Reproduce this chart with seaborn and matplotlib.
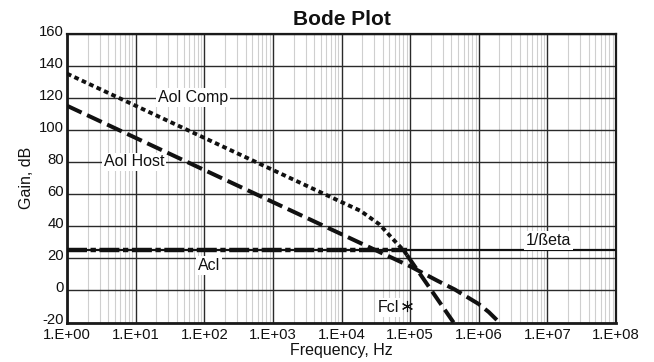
import matplotlib
matplotlib.use("Agg")
import matplotlib.pyplot as plt
import matplotlib.transforms as mtransforms
from matplotlib.ticker import FixedLocator, LogLocator, NullFormatter
import pandas as pd
import seaborn as sns

# Open-loop gain of the host amplifier (Hz, dB)
freq_host = [1, 1e5, 2.5e5, 4.5e5, 7e5, 1e6, 1.4e6, 2e6]
gain_host = [115, 15, 6, 0.5, -4.5, -8.5, -13.5, -20]

# Open-loop gain of the composite amplifier, up to Fcl and beyond
freq_comp = [1, 1e4, 1.9e4, 3.6e4, 5.6e4, 8e4, 9e4]
gain_comp = [135, 55, 49.5, 41, 32, 25, 22]
freq_comp_tail = [9e4, 4.3e5]
gain_comp_tail = [22, -20]

# Noise gain (1/Beta) and closed-loop gain
freq_beta = [1, 1e8]
gain_beta = [25, 25]
freq_acl = [1, 9e4]
gain_acl = [25, 25]

# Closed-loop bandwidth marker
fcl_freq = [9e4]
fcl_gain = [-10]

x_ticks = [1e0, 1e1, 1e2, 1e3, 1e4, 1e5, 1e6, 1e7, 1e8]
x_tick_labels = ["1.E+00", "1.E+01", "1.E+02", "1.E+03", "1.E+04",
                 "1.E+05", "1.E+06", "1.E+07", "1.E+08"]
y_ticks = [-20, 0, 20, 40, 60, 80, 100, 120, 140, 160]

sns.set_theme(style="white")
plt.rcParams["font.family"] = ["Liberation Sans", "DejaVu Sans"]

fig = plt.figure(figsize=(6.54, 3.62), dpi=100)
ax = fig.add_axes([67 / 654, 39.5 / 362, 549 / 654, 289 / 362])
ax.set_xscale("log")
ax.set_xlim(1, 1e8)
ax.set_ylim(-20, 160)

# Grid: dark decades / 20 dB lines, light minor decade lines
ax.xaxis.set_major_locator(FixedLocator(x_ticks))
ax.xaxis.set_minor_locator(LogLocator(base=10, subs=range(2, 10), numticks=100))
ax.xaxis.set_minor_formatter(NullFormatter())
ax.set_xticks(x_ticks)
ax.set_xticklabels(x_tick_labels)
ax.set_yticks(y_ticks)
ax.set_yticklabels([str(v) for v in y_ticks])
ax.grid(which="major", axis="both", color="#2a2a2a", linewidth=1.0, zorder=1)
ax.grid(which="minor", axis="x", color="#cfcfcf", linewidth=0.8, zorder=0)
ax.set_axisbelow(True)
ax.tick_params(which="both", length=0, labelsize=10.7, colors="#111111")
ax.tick_params(axis="x", pad=4)
ax.tick_params(axis="y", pad=2)

# Lift the gain labels slightly so the lowest one clears the frequency labels
lift = mtransforms.ScaledTranslation(0, 3.5 / 100, fig.dpi_scale_trans)
for lbl in ax.get_yticklabels():
    lbl.set_transform(lbl.get_transform() + lift)

for side in ["left", "bottom", "right", "top"]:
    ax.spines[side].set_visible(True)
    ax.spines[side].set_color("#1a1a1a")
    ax.spines[side].set_linewidth(1.6)
ax.spines["left"].set_linewidth(2.0)
ax.spines["bottom"].set_linewidth(2.0)

ink = "#111111"

# 1/Beta solid line across the full span
sns.lineplot(data=pd.DataFrame({"f": freq_beta, "g": gain_beta}), x="f", y="g",
             ax=ax, color=ink, linewidth=1.6, zorder=3)

# Acl heavy dash-dot line
sns.lineplot(data=pd.DataFrame({"f": freq_acl, "g": gain_acl}), x="f", y="g",
             ax=ax, color=ink, linewidth=3.2, linestyle=(0, (4.5, 0.8, 1.2, 0.8)),
             zorder=4)

# Aol Host dashed
sns.lineplot(data=pd.DataFrame({"f": freq_host, "g": gain_host}), x="f", y="g",
             ax=ax, color=ink, linewidth=2.9, linestyle=(0, (4.0, 1.5)),
             sort=False, estimator=None, zorder=5)

# Aol Comp dotted, then dashed roll-off past Fcl
sns.lineplot(data=pd.DataFrame({"f": freq_comp, "g": gain_comp}), x="f", y="g",
             ax=ax, color=ink, linewidth=2.8, linestyle=(0, (1.2, 0.9)),
             sort=False, estimator=None, zorder=5)
sns.lineplot(data=pd.DataFrame({"f": freq_comp_tail, "g": gain_comp_tail}), x="f", y="g",
             ax=ax, color=ink, linewidth=2.9, linestyle=(0, (4.0, 1.5)),
             sort=False, estimator=None, zorder=5)

for line in ax.lines:
    line.set_dash_capstyle("butt")
    line.set_solid_capstyle("butt")

# Fcl marker
ax.plot(fcl_freq, fcl_gain, linestyle="none", marker=(6, 2, 0), markersize=8,
        markeredgecolor=ink, markeredgewidth=0.8, zorder=6)

box = dict(boxstyle="square,pad=0.12", facecolor="white", edgecolor="none")
label_kw = dict(fontsize=11.5, color=ink, va="center", zorder=7, bbox=box)
ax.text(69, 120, "Aol Comp", ha="center", **label_kw)
ax.text(9.5, 80, "Aol Host", ha="center", **label_kw)
ax.text(118, 15.7, "Acl", ha="center", **label_kw)
ax.text(1.05e7, 31, "1/ßeta", ha="center", **label_kw)
ax.text(7.0e4, -10.4, "Fcl", ha="right", **label_kw)

ax.set_xlabel("Frequency, Hz", fontsize=11.5, color=ink, labelpad=1)
ax.set_ylabel("Gain, dB", fontsize=11.5, color=ink, labelpad=4)
ax.set_title("Bode Plot", fontsize=15, fontweight="bold", color=ink, pad=6)

fig.savefig("out.png", dpi=100)
